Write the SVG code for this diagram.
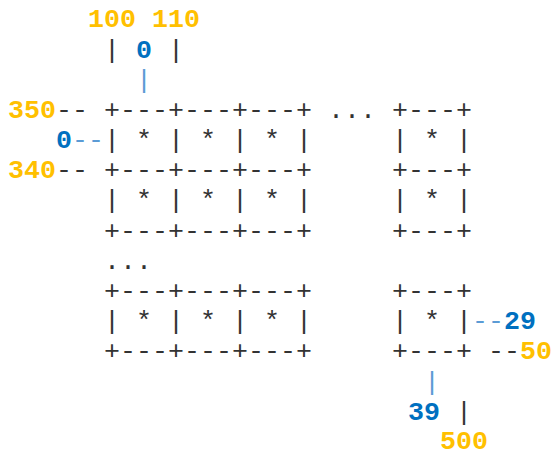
<svg xmlns="http://www.w3.org/2000/svg" width="555" height="452" viewBox="0 0 555 452">
<style>
text{font-family:"Liberation Mono","DejaVu Sans Mono",monospace;font-size:26.67px;white-space:pre;fill:#333}
.y{fill:#FFC000;font-weight:bold}
.b{fill:#0070C0;font-weight:bold}
.lb{fill:#5B9BD5}
</style>
<rect width="555" height="452" fill="#fff"/>
<g id="top-labels">
<text x="8" y="27.3" xml:space="preserve" class="y">     100 110</text>
<text x="8" y="57.5" xml:space="preserve">      | <tspan class="b">0</tspan> |</text>
<text x="8" y="87.7" xml:space="preserve" class="lb">        |</text>
</g>
<g id="grid">
<text x="8" y="117.8" xml:space="preserve"><tspan class="y">350</tspan>-- +---+---+---+ ... +---+</text>
<text x="8" y="148" xml:space="preserve">   <tspan class="b">0</tspan><tspan class="lb">--</tspan>| * | * | * |     | * |</text>
<text x="8" y="178.2" xml:space="preserve"><tspan class="y">340</tspan>-- +---+---+---+     +---+</text>
<text x="8" y="208.4" xml:space="preserve">      | * | * | * |     | * |</text>
<text x="8" y="238.6" xml:space="preserve">      +---+---+---+     +---+</text>
<text x="8" y="268.8" xml:space="preserve">      ...</text>
<text x="8" y="299" xml:space="preserve">      +---+---+---+     +---+</text>
<text x="8" y="329.2" xml:space="preserve">      | * | * | * |     | * |<tspan class="lb">--</tspan><tspan class="b">29</tspan></text>
<text x="8" y="359.4" xml:space="preserve">      +---+---+---+     +---+ --<tspan class="y">50</tspan></text>
</g>
<g id="bottom-labels">
<text x="8" y="389.6" xml:space="preserve" class="lb">                          |</text>
<text x="8" y="419.8" xml:space="preserve">                         <tspan class="b">39</tspan> |</text>
<text x="8" y="449" xml:space="preserve" class="y">                           500</text>
</g>
</svg>
